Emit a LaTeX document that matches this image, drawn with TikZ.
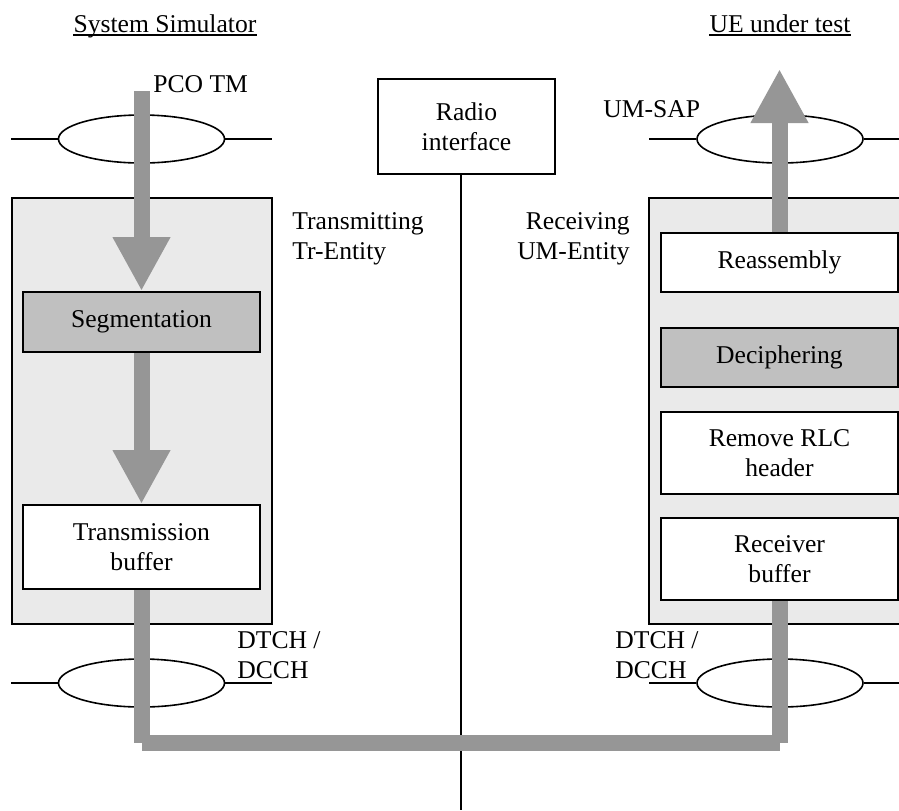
\documentclass[tikz,border=0pt]{standalone}
\usepackage{fontspec}
\setmainfont{Liberation Serif}
\usetikzlibrary{shapes.geometric,arrows.meta}
\definecolor{arrowgray}{RGB}{150,150,150}
\definecolor{lightfill}{RGB}{234,234,234}
\definecolor{midfill}{RGB}{192,192,192}
\begin{document}
\begin{tikzpicture}[x=0.5pt,y=-0.5pt,
  every node/.style={font=\fontsize{12.8pt}{15pt}\selectfont, inner sep=0pt},
  entity/.style={draw, line width=1pt, fill=lightfill},
  funcbox/.style={draw, line width=1pt, fill=white, align=center},
  shadedbox/.style={funcbox, fill=midfill},
  sap/.style={draw, ellipse, line width=0.8pt, minimum width=83pt, minimum height=24pt},
  sapline/.style={line width=0.8pt},
  flow/.style={draw=arrowgray, line width=8pt},
  flowarrow/.style={flow, -{Triangle[width=27pt,length=27pt]}, arrowgray},
  textlabel/.style={align=left, anchor=base west}
]
\useasboundingbox (0,0) rectangle (899,810);
\clip (0,0) rectangle (899,810);

% entity frames
\node[entity, minimum width=130pt, minimum height=213pt] (txent) at (142,411) {};
\node[entity, minimum width=133pt, minimum height=213pt] (rxent) at (782,411) {};

% function boxes
\node[shadedbox, minimum width=118.5pt, minimum height=30pt] (seg) at (141.5,322) {Segmentation};
\node[funcbox, minimum width=118.5pt, minimum height=42pt] (tbuf) at (141.5,547) {Transmission\\buffer};
\node[funcbox, minimum width=88.5pt, minimum height=47.5pt] (radio) at (466.5,126.5) {Radio\\interface};
\node[funcbox, minimum width=118.5pt, minimum height=29.5pt] (reas) at (779.5,262.5) {Reassembly};
\node[shadedbox, minimum width=118.5pt, minimum height=29.5pt] (deciph) at (779.5,357.5) {Deciphering};
\node[funcbox, minimum width=118.5pt, minimum height=41pt] (rlc) at (779.5,453) {Remove RLC\\header};
\node[funcbox, minimum width=118.5pt, minimum height=41pt] (rbuf) at (779.5,559) {Receiver\\buffer};

% service access points
\node[sap] (sapL) at (141.5,139) {};
\node[sap] (sapR) at (780,139) {};
\node[sap] (chL) at (141.5,683) {};
\node[sap] (chR) at (780,683) {};
\coordinate (sapLa) at (11,139);
\coordinate (sapLb) at (272,139);
\coordinate (sapRa) at (649,139);
\coordinate (sapRb) at (905,139);
\coordinate (chLa) at (11,683);
\coordinate (chLb) at (272,683);
\coordinate (chRa) at (649,683);
\coordinate (chRb) at (905,683);
\draw[sapline] (sapLa) -- (sapL.west) (sapL.east) -- (sapLb);
\draw[sapline] (sapRa) -- (sapR.west) (sapR.east) -- (sapRb);
\draw[sapline] (chLa) -- (chL.west) (chL.east) -- (chLb);
\draw[sapline] (chRa) -- (chR.west) (chR.east) -- (chRb);

% radio interface line
\coordinate (airBottom) at (461,810);
\draw[sapline] (radio.south -| airBottom) -- (airBottom);

% data flow
\coordinate (pcoIn) at (141.5,91);
\coordinate (ueOut) at (779.5,69);
\coordinate (cornerL) at (141.5,743);
\coordinate (cornerR) at (779.5,743);
\draw[flowarrow] (pcoIn) -- (seg.north);
\draw[flowarrow] (seg.south) -- (tbuf.north);
\draw[flowarrow] (reas.north) -- (ueOut);
\draw[flow] (tbuf.south) -- (cornerL);
\draw[flow] (cornerL) -- (cornerR);
\draw[flow] (rbuf.south) -- (cornerR);

% labels
\node[anchor=base] (sim) at (165,32) {System Simulator};
\node[anchor=base] (ue) at (780,32) {UE under test};
\draw[line width=0.8pt] ([yshift=-1.5pt]sim.base west) -- ([yshift=-1.5pt]sim.base east);
\draw[line width=0.8pt] ([yshift=-1.5pt]ue.base west) -- ([yshift=-1.5pt]ue.base east);
\node[textlabel] (pco) at (153,92) {PCO TM};
\node[textlabel] (umsap) at (603,117) {UM-SAP};
\node[textlabel] (txlbl) at (292,259) {Transmitting\\Tr-Entity};
\node[align=right, anchor=base east] (rxlbl) at (630,259) {Receiving\\UM-Entity};
\node[textlabel] (dtchL) at (237,678) {DTCH /\\DCCH};
\node[textlabel] (dtchR) at (615,678) {DTCH /\\DCCH};
\end{tikzpicture}
\end{document}
